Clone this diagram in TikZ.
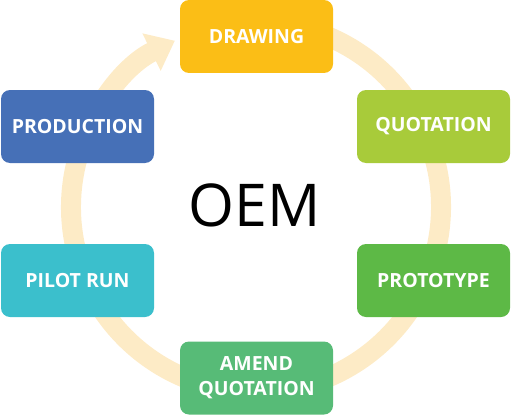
\documentclass[tikz,border=0pt]{standalone}
\usepackage{fontspec}
\setmainfont{Open Sans}
\usetikzlibrary{arrows.meta}
\definecolor{ringcol}{HTML}{FDEBC6}
\definecolor{drawcol}{HTML}{FBBE16}
\definecolor{prodcol}{HTML}{4670B7}
\definecolor{quotcol}{HTML}{A8CB3A}
\definecolor{pilotcol}{HTML}{3BBFCC}
\definecolor{protocol}{HTML}{5DB946}
\definecolor{amendcol}{HTML}{57BB77}
\tikzset{
  stagebox/.style={rounded corners=9pt,minimum width=153pt,minimum height=73pt,
    inner sep=0pt,align=center,text=white,font=\fontsize{19.5}{25}\selectfont\bfseries},
}
\begin{document}
\begin{tikzpicture}[x=1pt,y=1pt]
        \useasboundingbox (0,0) rectangle (511,416);
        %% ring with arrow
        \coordinate (ctr) at (256,209);
        \draw[ringcol,line width=20pt,-{Triangle[width=40pt,length=26pt]}]
            (ctr) ++(80:185) arc[start angle=80,end angle=-244,radius=185];
        %% stages
        \foreach \nm/\x/\y/\col/\txt in {draw/256.5/379.5/drawcol/DRAWING,
            quot/433.5/289.5/quotcol/QUOTATION,proto/433.5/135.5/protocol/PROTOTYPE,
            amend/256.5/38/amendcol/{AMEND\\QUOTATION},pilot/77.5/135.5/pilotcol/PILOT RUN,
            prod/77.5/289.5/prodcol/PRODUCTION} {
            \node[stagebox,fill=\col] (\nm) at (\x,\y) {\txt};
        }
        %% centre
        \node[font=\fontsize{59}{59}\selectfont] (oem) at (255,211) {OEM};
    \end{tikzpicture}
\end{document}
